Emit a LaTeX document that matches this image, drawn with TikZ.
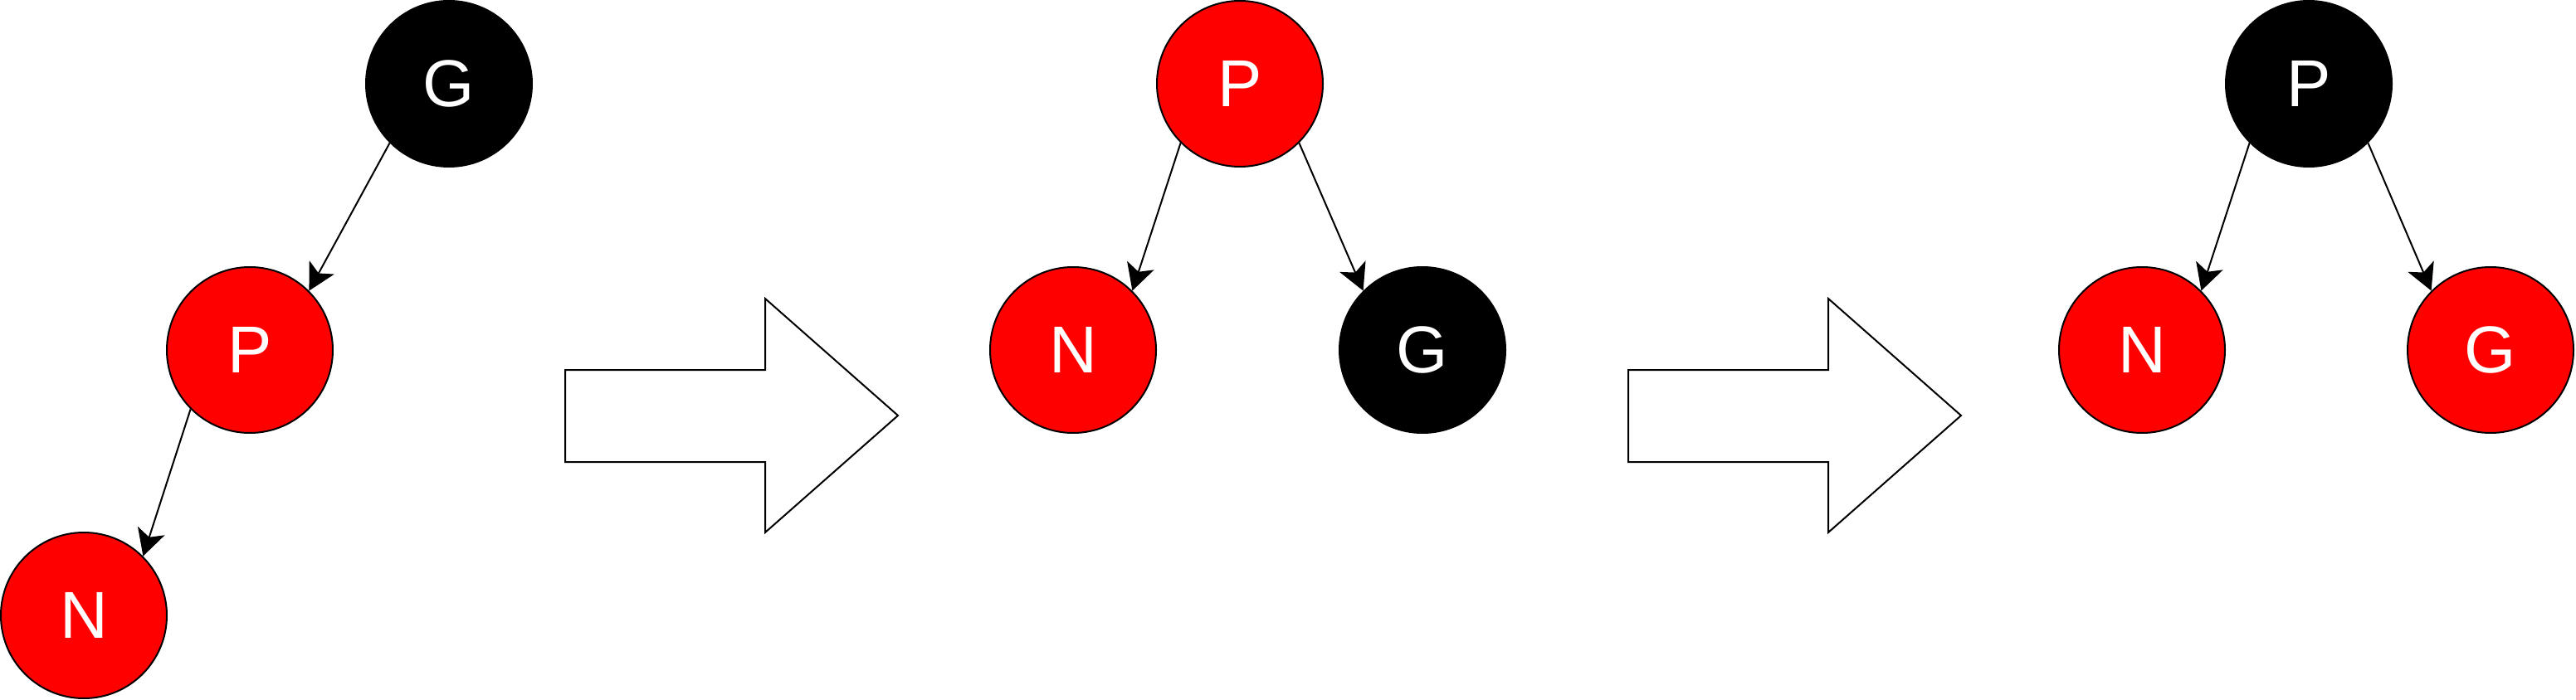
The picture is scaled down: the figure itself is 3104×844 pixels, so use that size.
\documentclass[tikz,border=0pt]{standalone}
\usepackage{fontspec}
\setmainfont{Liberation Sans}
\usetikzlibrary{arrows.meta}
\definecolor{nodered}{RGB}{255,0,0}
\tikzset{
  rbnode/.style={circle, draw=black, line width=1pt, minimum size=100pt, inner sep=0pt,
    text=white, font=\fontsize{40}{48}\selectfont},
  rednode/.style={rbnode, fill=nodered},
  blacknode/.style={rbnode, fill=black},
  edge/.style={draw=black, line width=1pt, -{Stealth[length=16pt,width=17pt,inset=4pt]}},
  blockarrow/.style={draw=black, line width=1pt, fill=white, line join=miter}
}
\begin{document}
\begin{tikzpicture}[x=0.5pt, y=-0.5pt]
\useasboundingbox (0,0) rectangle (3104,844);
% left tree
\node[blacknode] (G1) at (541,101) {G};
\node[rednode] (P1) at (301,422) {P};
\node[rednode] (N1) at (101,742) {N};
\draw[edge] (G1.-135) -- (P1.45);
\draw[edge] (P1.-135) -- (N1.45);
% first block arrow
\draw[blockarrow] (681,446) -- (922,446) -- (922,360) -- (1082,501) -- (922,642) -- (922,557) -- (681,557) -- cycle;
% middle tree
\node[rednode] (P2) at (1494,101) {P};
\node[rednode] (N2) at (1293,422) {N};
\node[blacknode] (G2) at (1714,422) {G};
\draw[edge] (P2.-135) -- (N2.45);
\draw[edge] (P2.-45) -- (G2.135);
% second block arrow
\draw[blockarrow] (1962,446) -- (2203,446) -- (2203,360) -- (2363,501) -- (2203,642) -- (2203,557) -- (1962,557) -- cycle;
% right tree
\node[blacknode] (P3) at (2782,101) {P};
\node[rednode] (N3) at (2581,422) {N};
\node[rednode] (G3) at (3001,422) {G};
\draw[edge] (P3.-135) -- (N3.45);
\draw[edge] (P3.-45) -- (G3.135);
\end{tikzpicture}
\end{document}
